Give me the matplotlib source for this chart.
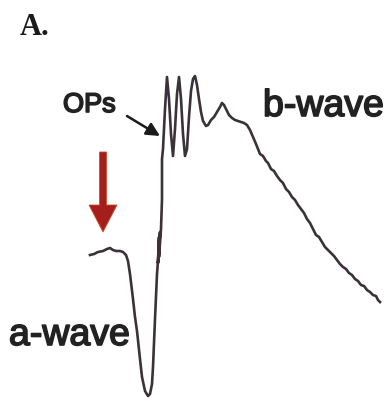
import matplotlib
matplotlib.use("Agg")
import matplotlib.pyplot as plt
from matplotlib.patches import FancyArrow
import matplotlib.patheffects as pe

# ERG trace (time position, response position)
trace_t = [90, 94, 98, 103, 107, 110, 113, 116, 120, 123, 126, 128, 130, 133, 135, 137,
           140, 142, 145, 148, 150, 152, 153, 155, 157, 158, 159, 158, 160, 159, 161,
           162, 162, 163, 165, 167, 169, 171, 173, 175, 177, 179, 181, 183, 185, 187,
           189, 191, 193, 195, 197, 199, 201, 203, 206, 208, 211, 214, 217, 220, 222,
           224, 226, 229, 232, 235, 238, 241, 244, 247, 250, 253, 256, 258, 260, 263,
           266, 268, 271, 274, 277, 280, 283, 286, 289, 292, 295, 298, 301, 304, 307,
           310, 313, 316, 319, 322, 325, 328, 331, 334, 337, 340, 343, 346, 349, 352,
           355, 358, 361, 364, 367, 370, 373, 376, 378, 380]
trace_v = [256, 255, 253, 252, 250, 249, 251, 252, 252, 253, 256, 262, 275, 300, 318, 332,
           360, 378, 392, 397, 395, 385, 368, 320, 275, 262, 238, 264, 233, 258, 230,
           200, 160, 150, 110, 78, 100, 135, 157, 130, 95, 78, 100, 135, 157, 150,
           118, 92, 80, 77, 86, 100, 113, 122, 127, 126, 121, 118, 113, 108, 104,
           106, 110, 116, 119, 121, 122, 123, 124, 126, 131, 138, 145, 150, 155, 157,
           162, 164, 170, 172, 177, 181, 184, 190, 193, 198, 201, 206, 210, 214, 220,
           224, 230, 236, 238, 243, 248, 251, 254, 257, 261, 265, 268, 270, 274, 276,
           280, 282, 286, 287, 291, 293, 296, 297, 301, 303]

labels = ["a-wave", "b-wave", "OPs"]
panel_label = "A."

W, H = 391, 402
fig = plt.figure(figsize=(W / 100, H / 100), dpi=100)
ax = fig.add_axes([0, 0, 1, 1])
ax.set_xlim(0, W)
ax.set_ylim(H, 0)
ax.axis("off")
fig.patch.set_facecolor("white")

ax.plot(trace_t, trace_v, color="#3a3238", lw=1.9, solid_joinstyle="round")

# red arrow marking the baseline
ax.add_patch(FancyArrow(103, 153, 0, 80, width=7, head_width=28, head_length=27,
                        length_includes_head=True, color="#a61e1c", ec="#c8502a", lw=0.6))

# OPs pointer arrow
ax.annotate("", xy=(160, 137), xytext=(127, 117),
            arrowprops=dict(arrowstyle="-|>", color="#1a1a1a", lw=1.8, mutation_scale=20,
                            shrinkA=0, shrinkB=0))

stroke = [pe.withStroke(linewidth=1.2, foreground="#222222")]
txt = dict(family="Liberation Sans", color="#222222", ha="left", va="baseline",
           path_effects=stroke)
ax.text(9, 346, labels[0], fontsize=27, **txt)
ax.text(263, 117, labels[1], fontsize=27, **txt)
ax.text(63, 113, labels[2], fontsize=19.5, **txt)

ax.text(20, 35, panel_label, family="Liberation Serif", fontweight="bold", fontsize=22,
        color="#1a1a1a", ha="left", va="baseline")

fig.savefig("out.png", dpi=100, facecolor="white")
